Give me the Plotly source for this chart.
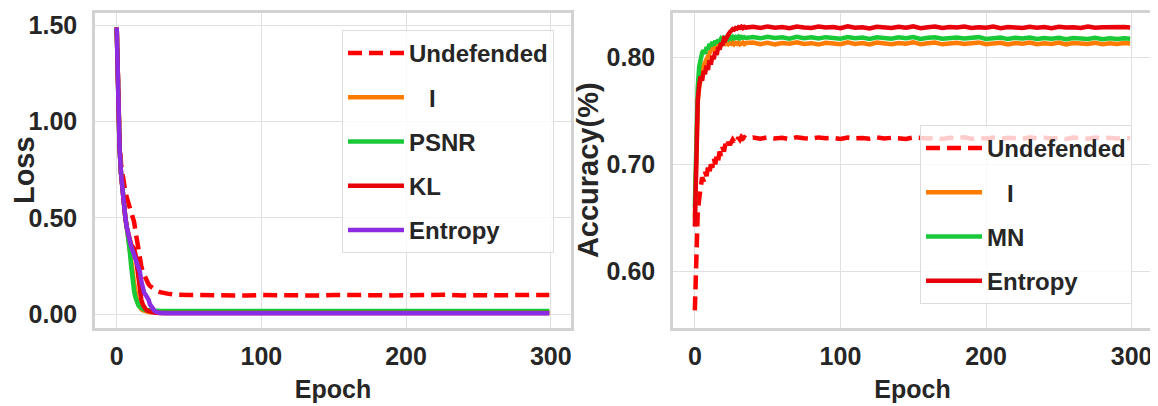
import plotly.graph_objects as go

# ---------------- data: loss panel ----------------
loss_epochs = [0, 1, 2, 3, 4, 5, 6, 7, 8, 9, 10, 11, 12, 13, 14, 15, 16, 17, 18, 19,
               20, 21, 22, 23, 24, 25, 26, 27, 28, 29, 30,
               35, 40, 50, 60, 70, 80, 90, 100, 110, 120, 130, 140, 150, 160, 170,
               180, 190, 200, 210, 220, 230, 240, 250, 260, 270, 280, 290, 299]

loss_undefended = [1.49, 1.08, 0.89, 0.78, 0.72, 0.67, 0.635, 0.605, 0.58, 0.56,
                   0.54, 0.52, 0.48, 0.43, 0.38, 0.33, 0.29, 0.25, 0.22, 0.20,
                   0.18, 0.165, 0.155, 0.146, 0.139, 0.133, 0.128, 0.124, 0.120, 0.117, 0.114,
                   0.106, 0.101, 0.099, 0.097, 0.100, 0.098, 0.096, 0.099, 0.097, 0.100,
                   0.098, 0.096, 0.099, 0.097, 0.100, 0.098, 0.097, 0.099, 0.096, 0.098,
                   0.100, 0.097, 0.099, 0.096, 0.098, 0.099, 0.097, 0.099]
loss_i = [1.49, 1.05, 0.86, 0.73, 0.64, 0.57, 0.50, 0.45, 0.40, 0.35,
          0.29, 0.22, 0.16, 0.11, 0.075, 0.05, 0.035, 0.025, 0.02, 0.016,
          0.013, 0.011, 0.010, 0.009, 0.009, 0.008, 0.008, 0.008, 0.008, 0.008, 0.008,
          0.008, 0.008, 0.008, 0.008, 0.008, 0.008, 0.008, 0.008, 0.008, 0.008,
          0.008, 0.008, 0.008, 0.008, 0.008, 0.008, 0.008, 0.008, 0.008, 0.008,
          0.008, 0.008, 0.008, 0.008, 0.008, 0.008, 0.008, 0.008]
loss_psnr = [1.49, 1.05, 0.86, 0.73, 0.64, 0.57, 0.50, 0.45, 0.40, 0.33,
             0.25, 0.17, 0.12, 0.085, 0.06, 0.045, 0.036, 0.030, 0.026, 0.023,
             0.021, 0.020, 0.019, 0.018, 0.018, 0.017, 0.017, 0.017, 0.016, 0.016, 0.016,
             0.016, 0.016, 0.016, 0.015, 0.016, 0.016, 0.015, 0.016, 0.016, 0.015,
             0.016, 0.016, 0.015, 0.016, 0.016, 0.015, 0.016, 0.016, 0.015, 0.016,
             0.016, 0.015, 0.016, 0.016, 0.015, 0.016, 0.016, 0.016]
loss_kl = [1.49, 1.05, 0.86, 0.73, 0.64, 0.57, 0.50, 0.45, 0.41, 0.38,
           0.36, 0.35, 0.34, 0.31, 0.25, 0.17, 0.11, 0.075, 0.05, 0.035,
           0.025, 0.019, 0.015, 0.012, 0.010, 0.009, 0.008, 0.007, 0.007, 0.006, 0.006,
           0.006, 0.006, 0.006, 0.006, 0.006, 0.006, 0.006, 0.006, 0.006, 0.006,
           0.006, 0.006, 0.006, 0.006, 0.006, 0.006, 0.006, 0.006, 0.006, 0.006,
           0.006, 0.006, 0.006, 0.006, 0.006, 0.006, 0.006, 0.006]
loss_entropy = [1.49, 1.05, 0.86, 0.73, 0.64, 0.57, 0.50, 0.45, 0.41, 0.38,
                0.35, 0.33, 0.31, 0.29, 0.27, 0.25, 0.22, 0.17, 0.13, 0.11,
                0.10, 0.09, 0.075, 0.05, 0.035, 0.025, 0.018, 0.012, 0.008, 0.006, 0.005,
                0.004, 0.004, 0.004, 0.004, 0.004, 0.004, 0.004, 0.004, 0.004, 0.004,
                0.004, 0.004, 0.004, 0.004, 0.004, 0.004, 0.004, 0.004, 0.004, 0.004,
                0.004, 0.004, 0.004, 0.004, 0.004, 0.004, 0.004, 0.004]

# ---------------- data: accuracy panel ----------------
acc_epochs = [0, 1, 2, 3, 4, 5, 6, 7, 8, 9, 10, 11, 12, 13, 14, 15, 16, 17, 18, 19,
              20, 21, 22, 23, 24, 25, 26, 27, 28, 29, 30, 31, 32, 33, 34, 35,
              40, 45, 50, 55, 60, 65, 70, 75, 80, 85, 90, 95, 100, 105, 110, 115,
              120, 125, 130, 135, 140, 145, 150, 155, 160, 165, 170, 175, 180, 185,
              190, 195, 200, 205, 210, 215, 220, 225, 230, 235, 240, 245, 250, 255,
              260, 265, 270, 275, 280, 285, 290, 295, 299]

acc_undefended = [0.564, 0.620, 0.655, 0.668, 0.680, 0.688, 0.684, 0.693, 0.689, 0.697,
                  0.692, 0.700, 0.697, 0.706, 0.700, 0.708, 0.703, 0.712, 0.708, 0.716,
                  0.712, 0.719, 0.716, 0.721, 0.718, 0.720, 0.723, 0.721, 0.724, 0.722,
                  0.725, 0.723, 0.7255, 0.724, 0.7252, 0.7243,
                  0.7250, 0.7238, 0.7252, 0.7241, 0.7247, 0.7235, 0.7253, 0.7244, 0.7239, 0.7251,
                  0.7243, 0.7248, 0.7236, 0.7250, 0.7242, 0.7246, 0.7238, 0.7252, 0.7240, 0.7247,
                  0.7243, 0.7237, 0.7251, 0.7245, 0.7240, 0.7249, 0.7236, 0.7248, 0.7243, 0.7252,
                  0.7239, 0.7246, 0.7241, 0.7250, 0.7237, 0.7247, 0.7244, 0.7238, 0.7251, 0.7242,
                  0.7248, 0.7240, 0.7246, 0.7236, 0.7250, 0.7243, 0.7239, 0.7249, 0.7242, 0.7247,
                  0.7240, 0.7246, 0.7244]
acc_i = [0.650, 0.728, 0.758, 0.772, 0.781, 0.786, 0.792, 0.795, 0.799, 0.802,
         0.805, 0.806, 0.809, 0.808, 0.811, 0.810, 0.8125, 0.811, 0.8132, 0.8118,
         0.8130, 0.8122, 0.8135, 0.8120, 0.8131, 0.8124, 0.8136, 0.8119, 0.8130, 0.8123,
         0.8133, 0.8118, 0.8129, 0.8135, 0.8121, 0.8130,
         0.8135, 0.8120, 0.8132, 0.8118, 0.8130, 0.8124, 0.8137, 0.8121, 0.8129, 0.8116,
         0.8133, 0.8125, 0.8119, 0.8136, 0.8122, 0.8130, 0.8117, 0.8134, 0.8126, 0.8120,
         0.8131, 0.8123, 0.8138, 0.8119, 0.8128, 0.8134, 0.8118, 0.8127, 0.8132, 0.8121,
         0.8129, 0.8136, 0.8120, 0.8126, 0.8133, 0.8117, 0.8131, 0.8124, 0.8135, 0.8119,
         0.8128, 0.8122, 0.8134, 0.8118, 0.8130, 0.8125, 0.8121, 0.8133, 0.8119, 0.8127,
         0.8122, 0.8130, 0.8126]
acc_mn = [0.660, 0.745, 0.772, 0.791, 0.800, 0.804, 0.806, 0.803, 0.809, 0.807,
          0.812, 0.810, 0.814, 0.811, 0.815, 0.813, 0.816, 0.814, 0.817, 0.8155,
          0.8175, 0.8160, 0.8182, 0.8168, 0.8185, 0.8172, 0.8188, 0.8175, 0.8186, 0.8178,
          0.8190, 0.8176, 0.8187, 0.8180, 0.8185, 0.8178,
          0.8186, 0.8174, 0.8189, 0.8178, 0.8183, 0.8171, 0.8188, 0.8176, 0.8184, 0.8172,
          0.8185, 0.8177, 0.8170, 0.8186, 0.8175, 0.8182, 0.8169, 0.8184, 0.8176, 0.8171,
          0.8183, 0.8174, 0.8186, 0.8168, 0.8179, 0.8184, 0.8170, 0.8177, 0.8182, 0.8172,
          0.8178, 0.8185, 0.8169, 0.8176, 0.8181, 0.8167, 0.8179, 0.8173, 0.8182, 0.8168,
          0.8176, 0.8170, 0.8180, 0.8166, 0.8177, 0.8172, 0.8167, 0.8178, 0.8165, 0.8174,
          0.8168, 0.8175, 0.8170]
acc_entropy = [0.642, 0.715, 0.760, 0.774, 0.782, 0.778, 0.787, 0.784, 0.792, 0.788,
               0.797, 0.793, 0.801, 0.798, 0.805, 0.802, 0.809, 0.807, 0.813, 0.811,
               0.817, 0.816, 0.820, 0.821, 0.823, 0.824, 0.826, 0.8255, 0.827, 0.8265,
               0.8278, 0.8272, 0.8283, 0.8270, 0.8281, 0.8274,
               0.8282, 0.8270, 0.8285, 0.8273, 0.8279, 0.8268, 0.8284, 0.8275, 0.8271, 0.8283,
               0.8274, 0.8280, 0.8269, 0.8286, 0.8272, 0.8278, 0.8267, 0.8282, 0.8276, 0.8270,
               0.8281, 0.8273, 0.8285, 0.8268, 0.8277, 0.8283, 0.8271, 0.8279, 0.8274, 0.8284,
               0.8270, 0.8278, 0.8272, 0.8283, 0.8269, 0.8280, 0.8275, 0.8271, 0.8282, 0.8273,
               0.8279, 0.8268, 0.8281, 0.8274, 0.8278, 0.8270, 0.8284, 0.8272, 0.8277, 0.8280,
               0.8273, 0.8279, 0.8276]

loss_ticks = [0.0, 0.5, 1.0, 1.5]
acc_ticks = [0.6, 0.7, 0.8]
epoch_ticks = [0, 100, 200, 300]

# ---------------- styling ----------------
RED = "#ff0000"
ORANGE = "#ff7c00"
GREEN = "#1ac938"
DARKRED = "#e8000b"
PURPLE = "#8b2be2"
TXT = "#262626"
FONT = "Liberation Sans, Arial, sans-serif"

fig = go.Figure()

def add(x, y, name, color, xa, ya, leg, dash=None, width=4.5):
    fig.add_trace(go.Scatter(
        x=x, y=y, name=name, mode="lines",
        line=dict(color=color, width=width, dash=dash),
        xaxis=xa, yaxis=ya, legend=leg, legendgroup=leg + name))

DASH = "14px,7px"
add(loss_epochs, loss_undefended, "Undefended", RED, "x", "y", "legend", DASH)
add(loss_epochs, loss_i, "\u00a0\u00a0\u00a0I", ORANGE, "x", "y", "legend")
add(loss_epochs, loss_psnr, "PSNR", GREEN, "x", "y", "legend")
add(loss_epochs, loss_kl, "KL", DARKRED, "x", "y", "legend")
add(loss_epochs, loss_entropy, "Entropy", PURPLE, "x", "y", "legend")

add(acc_epochs, acc_undefended, "Undefended", RED, "x2", "y2", "legend2", DASH, 4.5)
add(acc_epochs, acc_i, "\u00a0\u00a0\u00a0I", ORANGE, "x2", "y2", "legend2", None, 4.5)
add(acc_epochs, acc_mn, "MN", GREEN, "x2", "y2", "legend2", None, 4.5)
add(acc_epochs, acc_entropy, "Entropy", DARKRED, "x2", "y2", "legend2", None, 4.5)

# page body has an 8px default margin; the figure fills the rest of the window
OFF = 8
W, H = 1150, 398
def px_x(p): return (p - OFF) / W
def px_y(p): return 1 - (p - OFF) / H

tickfont = dict(family=FONT, size=25, color=TXT, weight="bold")
axis_common = dict(showgrid=True, gridcolor="#e0e0e0", gridwidth=1.3,
                   showline=True, linecolor="#d2d2d2", linewidth=2.5, mirror=True,
                   zeroline=False, ticks="", tickfont=tickfont, automargin=False)
xtitle_font = dict(family=FONT, size=25, color=TXT, weight="bold")
ytitle_font = dict(family=FONT, size=29, color=TXT, weight="bold")
legend_font = dict(family=FONT, size=24, color=TXT, weight="bold")

fig.update_layout(
    width=W, height=H,
    margin=dict(l=0, r=0, t=0, b=0),
    paper_bgcolor="white", plot_bgcolor="white",
    showlegend=True,
    xaxis=dict(domain=[px_x(95), px_x(571)], range=[-15, 314], tickvals=epoch_ticks,
               anchor="y", ticklabelstandoff=5,
               title=dict(text="Epoch", standoff=12, font=xtitle_font),
               **axis_common),
    yaxis=dict(domain=[px_y(327.5), px_y(13)], range=[-0.07, 1.565], tickvals=loss_ticks,
               tickformat=".2f", anchor="x", ticklabelstandoff=10,
               title=dict(text="Loss", standoff=1, font=ytitle_font),
               **axis_common),
    xaxis2=dict(domain=[px_x(673), px_x(1152)], range=[-15, 314], tickvals=epoch_ticks,
                anchor="y2", ticklabelstandoff=5,
                title=dict(text="Epoch", standoff=12, font=xtitle_font),
                **axis_common),
    yaxis2=dict(domain=[px_y(327.5), px_y(13)], range=[0.548, 0.841], tickvals=acc_ticks,
                tickformat=".2f", anchor="x2", ticklabelstandoff=10,
                title=dict(text="Accuracy(%)", standoff=0, font=ytitle_font),
                **axis_common),
    legend=dict(x=px_x(342), y=px_y(30), xanchor="left", yanchor="top",
                bgcolor="rgba(255,255,255,0.8)", bordercolor="#dcdcdc", borderwidth=1,
                font=legend_font, itemwidth=56, tracegroupgap=10, traceorder="grouped"),
    legend2=dict(x=px_x(920), y=px_y(125), xanchor="left", yanchor="top",
                 bgcolor="rgba(255,255,255,0.8)", bordercolor="#dcdcdc", borderwidth=1,
                 font=legend_font, itemwidth=56, tracegroupgap=10, traceorder="grouped"),
)

fig.write_html("out.html")
